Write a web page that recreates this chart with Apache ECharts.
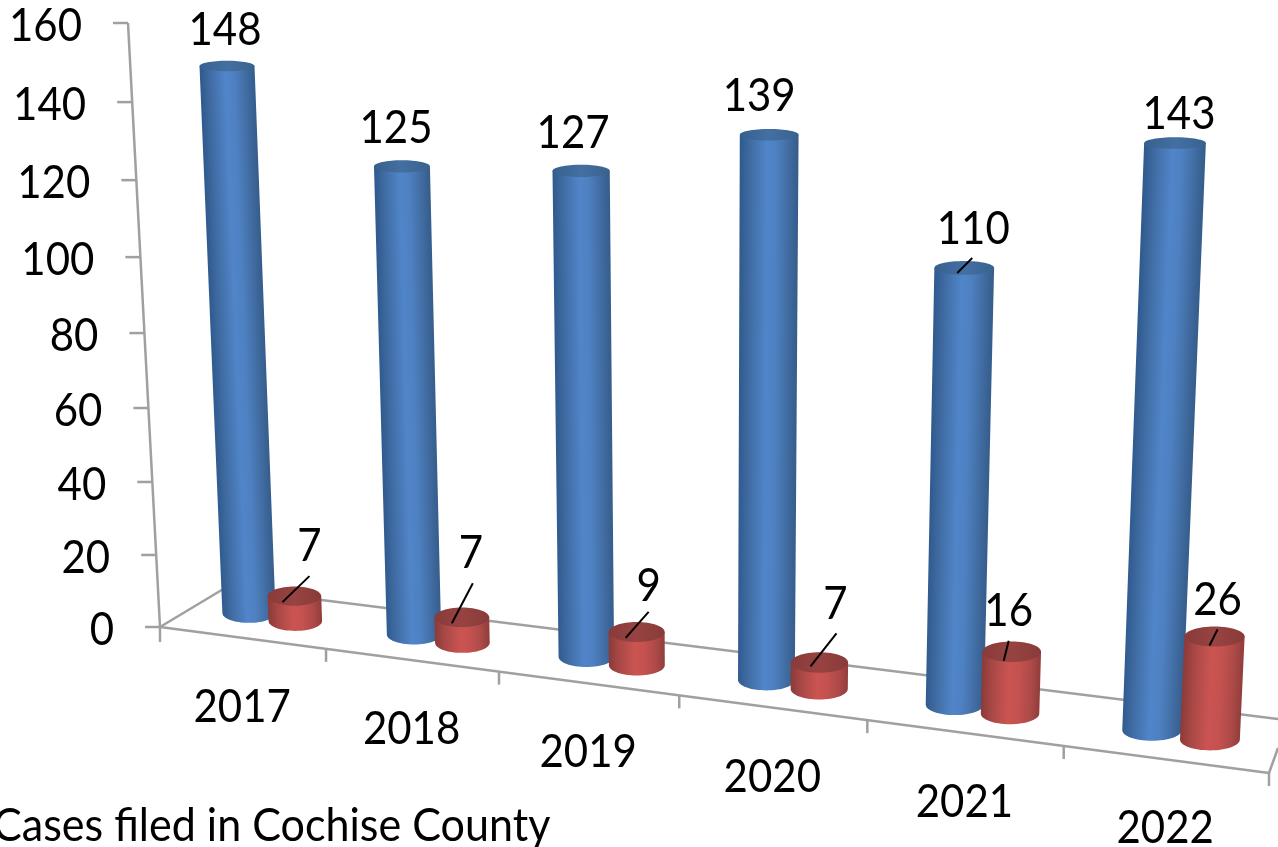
<!DOCTYPE html>
<html>
<head>
<meta charset="utf-8">
<style>html,body{margin:0;padding:0;background:#fff;overflow:hidden}#c{width:1278px;height:847px}</style>
<script src="https://cdn.jsdelivr.net/npm/echarts@6/dist/echarts.min.js"></script>
</head>
<body>
<div id="c"></div>
<script>
// ---- data ----
const years = ['2017','2018','2019','2020','2021','2022'];
const seriesA = [148,125,127,139,110,143];
const seriesB = [7,7,9,7,16,26];
const valueTicks = [0,20,40,60,80,100,120,140,160];
const caption = 'Cases filed in Cochise County';

// ---- layout (perspective + label placement) ----
const W = 1278, Hh = 847, VMAX = 160, BAND = W / years.length;
const FONT = '42px Lato, Carlito, sans-serif';
const AXIS = '#a0a0a0';
// control points: [band position, value] -> screen
const frontQuad = [[[0,0],[160,627]],[[0,160],[128,23]],[[6,0],[1269,773]],[[6,160],[1302,91]]];
const barQuad   = [[[0.5,0],[249,613]],[[0.5,148],[227,66]],[[5.5,0],[1152,730]],[[5.5,143],[1175,143]]];
const backLeft = [225,588], backRight = [1278,719], rightEnd = [1278,748];
const B_OFFSET = 0.285, B_DROP = 2;
const aLabel = [[-2,-38],[-6,-40],[-8,-40],[-10,-41],[9,-41],[4,-31]];
const bLabel = [[15,-52],[9,-66],[12,-48],[16,-60],[-3,-43],[3,-38]];
const aLeader = [null,null,null,null,[8,-10,-7,5],null];
const bLeader = [[15,-20,-12,6],[11,-34,-10,6],[12,-20,-11,6],[17,-29,-9,4],[-3,-11,-8,9],[3,-7,-5,9]];

function solveH(q){
  const A=[],b=[];
  q.forEach(([s,d])=>{
    const x=s[0]*BAND, y=Hh-s[1]/VMAX*Hh, X=d[0], Y=d[1];
    A.push([x,y,1,0,0,0,-x*X,-y*X]); b.push(X);
    A.push([0,0,0,x,y,1,-x*Y,-y*Y]); b.push(Y);
  });
  const n=8;
  for(let i=0;i<n;i++){
    let p=i; for(let r=i+1;r<n;r++) if(Math.abs(A[r][i])>Math.abs(A[p][i])) p=r;
    [A[i],A[p]]=[A[p],A[i]]; [b[i],b[p]]=[b[p],b[i]];
    for(let r=i+1;r<n;r++){const f=A[r][i]/A[i][i]; for(let c=i;c<n;c++)A[r][c]-=f*A[i][c]; b[r]-=f*b[i];}
  }
  const h=new Array(n);
  for(let i=n-1;i>=0;i--){let s=b[i]; for(let c=i+1;c<n;c++)s-=A[i][c]*h[c]; h[i]=s/A[i][i];}
  return (px,py)=>{const w=h[6]*px+h[7]*py+1; return [(h[0]*px+h[1]*py+h[2])/w,(h[3]*px+h[4]*py+h[5])/w];};
}
const Hfront = solveH(frontQuad), Hbar = solveH(barQuad);
const ryAt = y => 5.2 + (y-66)*0.0085;
const rxAt = (x,y) => 27.5 + 0.0037*(x-226) - 0.0018*(y-66);

const BLUE = {body:[[0,'#2f5a8e'],[0.18,'#406ca3'],[0.46,'#5085c9'],[0.62,'#4e81c2'],[0.84,'#416ca1'],[1,'#355d8c']],
              top:[[0,'#35608e'],[0.5,'#446fa2'],[1,'#38628e']]};
const RED  = {body:[[0,'#8b3a38'],[0.18,'#a84846'],[0.46,'#ca5451'],[0.62,'#c65250'],[0.84,'#ad4a48'],[1,'#913d3b']],
              top:[[0,'#883b39'],[0.5,'#974341'],[1,'#893b39']]};

function grad(x,y,x2,y2,stops){
  return {type:'linear',x,y,x2,y2,global:true,colorStops:stops.map(s=>({offset:s[0],color:s[1]}))};
}
function txt(s,x,y,align){
  return {type:'text',x:x,y:y+2,scaleX:1,scaleY:1.1,style:{text:s,font:FONT,fill:'#000',align:align||'center',verticalAlign:'middle'}};
}
function cylinder(B,T,pal){
  const rb=rxAt(B[0],B[1]), rt=rxAt(T[0],T[1]);
  const ryb=ryAt(B[1]), ryt=ryAt(T[1]), k=0.5523;
  const d=`M${T[0]-rt} ${T[1]}L${B[0]-rb} ${B[1]}`+
    `C${B[0]-rb} ${B[1]+k*ryb} ${B[0]-k*rb} ${B[1]+ryb} ${B[0]} ${B[1]+ryb}`+
    `C${B[0]+k*rb} ${B[1]+ryb} ${B[0]+rb} ${B[1]+k*ryb} ${B[0]+rb} ${B[1]}`+
    `L${T[0]+rt} ${T[1]}Z`;
  let ax=T[0]-B[0], ay=T[1]-B[1]; const L=Math.hypot(ax,ay)||1; ax/=L; ay/=L;
  let nx=-ay, ny=ax; if(nx<0){nx=-nx;ny=-ny;}
  const mx=(B[0]+T[0])/2, my=(B[1]+T[1])/2, r=(rb+rt)/2;
  return [
    {type:'path',shape:{pathData:d},style:{fill:grad(mx-nx*r,my-ny*r,mx+nx*r,my+ny*r,pal.body)}},
    {type:'ellipse',shape:{cx:T[0],cy:T[1],rx:rt,ry:ryt},style:{fill:grad(T[0]-rt,T[1],T[0]+rt,T[1],pal.top)}}
  ];
}
function barRenderer(offset,drop,pal,labels,leaders){
  return function(params,api){
    const i=api.value(0), v=api.value(1);
    const bw=api.size([1,0])[0];
    const p0=api.coord([i,0]), p1=api.coord([i,v]);
    const off=offset*bw;
    const B=Hbar(p0[0]+off,p0[1]), T=Hbar(p1[0]+off,p1[1]);
    B[1]+=drop; T[1]+=drop;
    const kids=cylinder(B,T,pal);
    const ld=leaders[i];
    if(ld) kids.push({type:'line',shape:{x1:T[0]+ld[0],y1:T[1]+ld[1],x2:T[0]+ld[2],y2:T[1]+ld[3]},style:{stroke:'#000',lineWidth:2}});
    const o=labels[i];
    kids.push(txt(String(v),T[0]+o[0],T[1]+o[1]));
    return {type:'group',children:kids};
  };
}
function seg(a,b,w){return {type:'line',shape:{x1:a[0],y1:a[1],x2:b[0],y2:b[1]},style:{stroke:AXIS,lineWidth:w||2.5}};}

const chart=echarts.init(document.getElementById('c'),null,{renderer:'canvas'});
chart.setOption({
  backgroundColor:'#fff',
  animation:false,
  tooltip:{show:false},
  grid:{left:0,top:0,width:W,height:Hh,containLabel:false},
  xAxis:{type:'category',data:years,show:false},
  yAxis:{type:'value',min:0,max:VMAX,interval:20,show:false},
  graphic:[{type:'text',x:-7,y:826,scaleX:1.025,scaleY:1.1,style:{text:caption,font:FONT,fill:'#000',align:'left',verticalAlign:'middle'}}],
  series:[
    { // floor outline and value axis
      type:'custom',name:'axis',coordinateSystem:'cartesian2d',clip:false,silent:true,
      data:valueTicks.map(v=>[0,v]),
      renderItem(params,api){
        const v=api.value(1), p=api.coord([0,v]), bw=api.size([1,0])[0];
        const P=Hfront(p[0]-bw/2,p[1]);
        const kids=[
          seg(P,[P[0]-15,P[1]],2.5),
          txt(String(v),P[0]-46,P[1]+1,'right')
        ];
        if(v===0){
          const e=Hfront(p[0]-bw/2+bw*years.length,p[1]);
          const t=api.coord([0,VMAX]); const top=Hfront(p[0]-bw/2,t[1]);
          kids.push(seg(P,top),seg(P,e),seg(P,backLeft),seg(backLeft,backRight),seg(e,rightEnd));
          kids.push(seg(P,[P[0],P[1]+15]));
        }
        return {type:'group',children:kids};
      }
    },
    { // category ticks and labels
      type:'custom',name:'years',coordinateSystem:'cartesian2d',clip:false,silent:true,
      data:years.map((y,i)=>[i,0]),
      renderItem(params,api){
        const i=api.value(0), p=api.coord([i,0]), bw=api.size([1,0])[0];
        const R=Hfront(p[0]+bw/2,p[1]), C=Hfront(p[0],p[1]);
        return {type:'group',children:[
          seg(R,[R[0],R[1]+13],2.5),
          txt(years[i],C[0],C[1]+67)
        ]};
      }
    },
    {type:'custom',name:'Series A',coordinateSystem:'cartesian2d',clip:false,silent:true,
      data:seriesA.map((v,i)=>[i,v]),
      renderItem:barRenderer(0,0,BLUE,aLabel,aLeader)},
    {type:'custom',name:'Series B',coordinateSystem:'cartesian2d',clip:false,silent:true,
      data:seriesB.map((v,i)=>[i,v]),
      renderItem:barRenderer(B_OFFSET,B_DROP,RED,bLabel,bLeader)}
  ]
});
</script>
</body>
</html>
